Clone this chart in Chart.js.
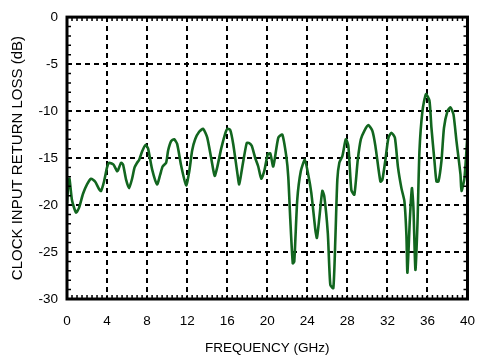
<!DOCTYPE html>
<html>
<head>
<meta charset="utf-8">
<script src="https://cdn.jsdelivr.net/npm/chart.js@4/dist/chart.umd.min.js"></script>
<style>
  html, body { margin: 0; padding: 0; background: #fff; }
  #wrap { width: 489px; height: 358px; }
</style>
</head>
<body>
<div id="wrap"><canvas id="c" width="489" height="358"></canvas></div>
<script>
// Frequency (GHz)
const freqGHz = [
  0, 0.15, 0.25, 0.5, 0.9, 1.2, 1.6, 2.0, 2.4, 2.8, 3.2, 3.4, 3.7, 4.0, 4.2, 4.5, 4.65, 5.0, 5.1, 5.4,
  5.6, 5.9, 6.2, 6.5, 6.75, 7.0, 7.2, 7.5, 7.85, 8.1, 8.5, 9.0, 9.3, 9.55, 9.9, 10.1, 10.4, 10.7, 11.0, 11.4,
  11.9, 12.2, 12.5, 12.8, 13.2, 13.6, 14.0, 14.4, 14.75, 15.0, 15.4, 15.8, 16.0, 16.3, 16.6, 17.0, 17.2, 17.5, 17.95, 18.2,
  18.45, 18.8, 19.1, 19.4, 19.7, 20.05, 20.3, 20.6, 21.1, 21.5, 21.9, 22.1, 22.3, 22.55, 22.7, 23.0, 23.35, 23.75, 24.1, 24.4,
  24.8, 24.96, 25.2, 25.5, 25.7, 26.05, 26.3, 26.6, 26.8, 27.0, 27.2, 27.5, 27.85, 28.1, 28.4, 28.7, 29.04, 29.35, 29.7, 30.1,
  30.5, 30.8, 31.3, 31.5, 31.8, 32.1, 32.4, 32.75, 33.06, 33.4, 33.7, 33.9, 34.0, 34.25, 34.45, 34.6, 34.8, 35.0, 35.2, 35.5,
  35.85, 36.2, 36.4, 36.7, 36.9, 37.1, 37.4, 37.65, 38.0, 38.3, 38.6, 38.9, 39.3, 39.4, 39.7, 40.0
];
// Return loss (dB)
const returnLossDb = [
  -19.8, -17.5, -17.2, -19.5, -20.8, -20.3, -18.8, -17.8, -17.2, -17.5, -18.3, -18.5, -17.5, -16.0, -15.5, -15.6, -15.7, -16.4, -16.3, -15.5,
  -15.7, -17.3, -18.2, -17.2, -16.0, -15.5, -15.2, -14.3, -13.6, -14.0, -16.2, -17.8, -16.8, -15.9, -15.5, -14.2, -13.2, -13.0, -13.5, -15.8,
  -17.9, -16.5, -14.2, -13.0, -12.2, -11.9, -12.8, -15.0, -16.9, -16.0, -14.0, -12.4, -11.9, -12.0, -13.5, -16.5, -17.8, -16.0, -13.4, -13.4,
  -13.7, -15.0, -15.9, -17.2, -16.4, -14.6, -14.5, -15.9, -12.85, -12.5, -14.8, -17.0, -21.5, -26.2, -26.0, -19.4, -16.4, -15.2, -16.8, -18.7,
  -22.6, -23.5, -21.4, -18.5, -19.1, -23.0, -28.5, -28.85, -23.7, -17.3, -15.5, -14.8, -13.0, -13.7, -18.4, -18.9, -15.2, -13.0, -12.1, -11.5,
  -12.1, -13.7, -17.5, -17.3, -15.2, -12.85, -12.3, -12.85, -16.0, -18.2, -19.6, -23.2, -27.2, -21.4, -18.2, -20.3, -26.9, -22.1, -14.3, -10.0,
  -8.2, -8.9, -11.8, -15.3, -17.5, -17.5, -15.3, -11.8, -10.0, -9.6, -10.35, -13.2, -16.75, -18.5, -17.1, -12.5
];
const xTicks = [0, 4, 8, 12, 16, 20, 24, 28, 32, 36, 40];
const yTicks = [0, -5, -10, -15, -20, -25, -30];

const points = freqGHz.map((f, i) => ({ x: f, y: returnLossDb[i] }));

const framePlugin = {
  id: 'frame',
  afterDraw(chart) {
    const { ctx, chartArea: a, scales } = chart;
    const xs = scales.x, ys = scales.y;
    ctx.save();
    ctx.strokeStyle = '#000';
    // minor ticks
    ctx.lineWidth = 1.5;
    ctx.beginPath();
    for (let v = -29; v < 0; v++) {
      const p = ys.getPixelForValue(v);
      ctx.moveTo(a.left, p); ctx.lineTo(a.left + 4, p);
      ctx.moveTo(a.right, p); ctx.lineTo(a.right - 4, p);
    }
    for (let v = 0.5; v < 40; v += 0.5) {
      const p = xs.getPixelForValue(v);
      ctx.moveTo(p, a.bottom); ctx.lineTo(p, a.bottom - 4);
      ctx.moveTo(p, a.top); ctx.lineTo(p, a.top + 4);
    }
    ctx.stroke();
    // frame
    ctx.lineWidth = 3;
    ctx.strokeRect(a.left, a.top, a.right - a.left, a.bottom - a.top);
    ctx.restore();
  }
};

new Chart(document.getElementById('c'), {
  type: 'scatter',
  data: {
    datasets: [{
      data: points,
      showLine: true,
      borderColor: '#12661f',
      borderWidth: 2.6,
      pointRadius: 0,
      tension: 0.2,
      fill: false
    }]
  },
  options: {
    responsive: false,
    animation: false,
    plugins: { legend: { display: false }, tooltip: { enabled: false } },
    layout: { padding: { left: 0, right: 6, top: 17, bottom: 0 } },
    scales: {
      x: {
        type: 'linear', min: 0, max: 40,
        afterBuildTicks: s => { s.ticks = xTicks.map(v => ({ value: v })); },
        afterFit: s => { s.height = 59; },
        ticks: { color: '#000', font: { family: 'Liberation Sans', size: 13.5 }, padding: 14, maxRotation: 0 },
        grid: { color: '#000', lineWidth: 2, drawTicks: false },
        border: { display: false, dash: [5, 4] },
        title: { display: true, text: 'FREQUENCY (GHz)', color: '#000', font: { family: 'Liberation Sans', size: 13.5 }, padding: { top: 0, bottom: 2 } }
      },
      y: {
        type: 'linear', min: -30, max: 0,
        afterBuildTicks: s => { s.ticks = yTicks.map(v => ({ value: v })); },
        afterFit: s => { s.width = 67; },
        ticks: { color: '#000', font: { family: 'Liberation Sans', size: 13.5 }, padding: 9 },
        grid: { color: '#000', lineWidth: 2, drawTicks: false },
        border: { display: false, dash: [5, 4] },
        title: { display: true, text: 'CLOCK INPUT RETURN LOSS (dB)', color: '#000', font: { family: 'Liberation Sans', size: 15 }, padding: { top: 9, bottom: 0 } }
      }
    }
  },
  plugins: [framePlugin]
});
</script>
</body>
</html>
